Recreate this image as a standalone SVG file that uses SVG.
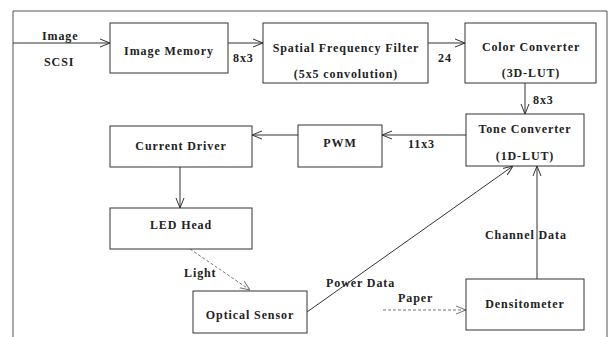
<svg xmlns="http://www.w3.org/2000/svg" width="615" height="337" viewBox="0 0 615 337">
<defs>
<style>
.box{fill:#fff;stroke:#333;stroke-width:1}
.t{font-family:"Liberation Serif","Times New Roman",serif;font-size:12px;font-weight:bold;letter-spacing:0.9px;fill:#222;text-anchor:middle}
.l{font-family:"Liberation Serif","Times New Roman",serif;font-size:12px;font-weight:bold;letter-spacing:0.9px;fill:#222}
.c{fill:none;stroke:#333;stroke-width:1}
.d{fill:none;stroke:#777;stroke-width:1;stroke-dasharray:3 2}
</style>
<marker id="a" viewBox="0 0 10 10" refX="10" refY="5" markerWidth="10" markerHeight="10" markerUnits="userSpaceOnUse" orient="auto">
<path d="M0,1 L10,5 L0,9" fill="none" stroke="#333" stroke-width="1"/>
</marker>
<marker id="ag" viewBox="0 0 10 10" refX="10" refY="5" markerWidth="10" markerHeight="10" markerUnits="userSpaceOnUse" orient="auto">
<path d="M0,1 L10,5 L0,9" fill="none" stroke="#777" stroke-width="1"/>
</marker>
</defs>
<rect width="615" height="337" fill="#fff"/>
<path d="M13,340 V11 H607 V340" fill="none" stroke="#555" stroke-width="1"/>
<g id="connectors">
<line class="c" x1="13" y1="43" x2="110" y2="43" marker-end="url(#a)"/>
<line class="c" x1="228" y1="43" x2="263" y2="43" marker-end="url(#a)"/>
<line class="c" x1="428" y1="43" x2="465" y2="43" marker-end="url(#a)"/>
<line class="c" x1="525" y1="83" x2="525" y2="114" marker-end="url(#a)"/>
<line class="c" x1="466" y1="135" x2="382" y2="135" marker-end="url(#a)"/>
<line class="c" x1="298" y1="135" x2="252" y2="135" marker-end="url(#a)"/>
<line class="c" x1="180" y1="167" x2="180" y2="208" marker-end="url(#a)"/>
<line class="d" x1="190" y1="249" x2="250" y2="290" marker-end="url(#ag)"/>
<line class="c" x1="307" y1="312" x2="513" y2="166" marker-end="url(#a)"/>
<line class="c" x1="537" y1="279" x2="537" y2="166" marker-end="url(#a)"/>
<line class="d" x1="383" y1="310" x2="466" y2="310" marker-end="url(#ag)"/>
<text class="l" x="42" y="40">Image</text>
<text class="l" x="44" y="66">SCSI</text>
<text class="l" x="233" y="62">8x3</text>
<text class="l" x="438" y="62">24</text>
<text class="l" x="533" y="104">8x3</text>
<text class="l" x="408" y="148">11x3</text>
<text class="l" x="184" y="277">Light</text>
<text class="l" x="326" y="287">Power Data</text>
<text class="l" x="485" y="239">Channel Data</text>
<text class="l" x="398" y="302">Paper</text>
</g>
<g id="image-memory">
<rect class="box" x="110" y="23" width="118" height="50"/>
<text class="t" x="169" y="55">Image Memory</text>
</g>
<g id="spatial-filter">
<rect class="box" x="263" y="23" width="165" height="60"/>
<text class="t" x="346" y="52">Spatial Frequency Filter</text>
<text class="t" x="346" y="78">(5x5 convolution)</text>
</g>
<g id="color-converter">
<rect class="box" x="465" y="23" width="131" height="60"/>
<text class="t" x="531" y="51">Color Converter</text>
<text class="t" x="531" y="77">(3D-LUT)</text>
</g>
<g id="tone-converter">
<rect class="box" x="466" y="114" width="118" height="52"/>
<text class="t" x="525" y="133">Tone Converter</text>
<text class="t" x="525" y="160">(1D-LUT)</text>
</g>
<g id="pwm">
<rect class="box" x="298" y="125" width="84" height="42"/>
<text class="t" x="340" y="147">PWM</text>
</g>
<g id="current-driver">
<rect class="box" x="110" y="126" width="142" height="41"/>
<text class="t" x="181" y="150">Current Driver</text>
</g>
<g id="led-head">
<rect class="box" x="110" y="208" width="142" height="41"/>
<text class="t" x="181" y="229">LED Head</text>
</g>
<g id="optical-sensor">
<rect class="box" x="193" y="291" width="114" height="42"/>
<text class="t" x="250" y="319">Optical Sensor</text>
</g>
<g id="densitometer">
<rect class="box" x="466" y="279" width="118" height="51"/>
<text class="t" x="525" y="308">Densitometer</text>
</g>
</svg>
